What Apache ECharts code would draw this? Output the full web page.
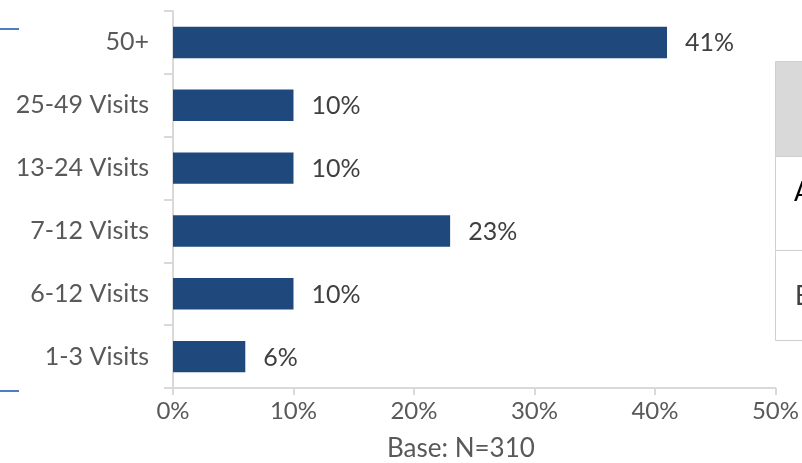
<!DOCTYPE html>
<html>
<head>
<meta charset="utf-8">
<script src="https://cdn.jsdelivr.net/npm/echarts@6/dist/echarts.min.js"></script>
<style>
  html, body { margin: 0; padding: 0; background: #ffffff; }
  #chart { width: 802px; height: 463px; }
</style>
</head>
<body>
<div id="chart"></div>
<script>
// Visit-frequency buckets, listed bottom to top
const categories = ['1-3 Visits', '6-12 Visits', '7-12 Visits', '13-24 Visits', '25-49 Visits', '50+'];
// Share of respondents per bucket (%)
const shares = [6, 10, 23, 10, 10, 41];
// Value axis ticks (%)
const axisMin = 0;
const axisMax = 50;
const axisStep = 10;
const baseNote = 'Base: N=310';

const FONT = 'Lato, "Open Sans", sans-serif';
const chart = echarts.init(document.getElementById('chart'), null, { renderer: 'canvas' });

chart.setOption({
  animation: false,
  backgroundColor: '#ffffff',
  grid: { left: 173, right: 25, top: 11, bottom: 75, containLabel: false },
  xAxis: {
    type: 'value',
    min: axisMin,
    max: axisMax,
    interval: axisStep,
    axisLine: { show: true, lineStyle: { color: '#d9d9d9', width: 2 } },
    axisTick: { show: true, length: 7, lineStyle: { color: '#d9d9d9', width: 2 } },
    splitLine: { show: false },
    axisLabel: {
      color: '#595959', fontFamily: FONT, fontSize: 24, margin: 11,
      formatter: v => v + '%'
    }
  },
  yAxis: {
    type: 'category',
    data: categories,
    axisLine: { show: true, lineStyle: { color: '#d9d9d9', width: 2 } },
    axisTick: { show: true, length: 9, lineStyle: { color: '#d9d9d9', width: 2 } },
    axisLabel: { color: '#595959', fontFamily: FONT, fontSize: 25, margin: 24 }
  },
  series: [{
    type: 'bar',
    data: shares,
    barWidth: '50%',
    itemStyle: { color: '#1f497d' },
    label: {
      show: true,
      position: 'right',
      distance: 18,
      color: '#404040',
      fontFamily: FONT,
      fontSize: 25,
      offset: [0, 1],
      formatter: p => p.value + '%'
    }
  }],
  graphic: [
    // axis note
    { type: 'text', left: 387, top: 436,
      style: { text: baseNote, fill: '#595959', font: '26px ' + FONT } },
    // slide bracket strokes at left edge
    { type: 'line', shape: { x1: 0, y1: 29, x2: 19, y2: 29 },
      style: { stroke: '#4a7fc1', lineWidth: 2 } },
    { type: 'line', shape: { x1: 0, y1: 391, x2: 19, y2: 391 },
      style: { stroke: '#4a7fc1', lineWidth: 2 } },
    // neighbouring table edge at right
    { type: 'rect', shape: { x: 775.5, y: 61.5, width: 40, height: 95 },
      style: { fill: '#d9d9d9', stroke: '#cfcfcf', lineWidth: 1 } },
    { type: 'rect', shape: { x: 775.5, y: 156.5, width: 40, height: 94 },
      style: { fill: '#ffffff', stroke: '#cfcfcf', lineWidth: 1 } },
    { type: 'rect', shape: { x: 775.5, y: 250.5, width: 40, height: 90 },
      style: { fill: '#ffffff', stroke: '#cfcfcf', lineWidth: 1 } },
    { type: 'text', left: 794, top: 180,
      style: { text: 'A', fill: '#000000', font: '26px ' + FONT } },
    { type: 'text', left: 795, top: 284,
      style: { text: 'E', fill: '#404040', font: '26px ' + FONT } }
  ]
});
</script>
</body>
</html>
